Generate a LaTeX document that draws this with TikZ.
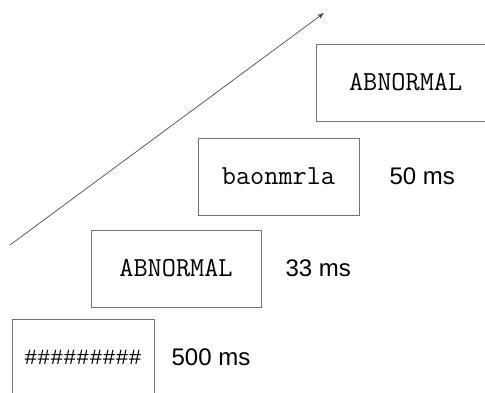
\documentclass[tikz,border=0pt]{standalone}
\usepackage{fontspec}
\setmainfont{Liberation Sans}
\newfontfamily\hashfont{Liberation Mono}
\usetikzlibrary{positioning,arrows.meta}

\tikzset{
  frame/.style={draw=black!55, line width=0.8pt, inner sep=0pt,
    minimum height=77pt, font=\ttfamily\fontsize{27.5}{32}\selectfont},
  dur/.style={inner sep=0pt, font=\fontsize{24}{28}\selectfont}
}

\begin{document}
\begin{tikzpicture}[x=1pt,y=1pt]
  \clip (0,0) rectangle (485,392);
  \fill[white] (0,0) rectangle (485,392);

  % time axis
  \coordinate (t0) at (10,147);
  \coordinate (t1) at (324,379);
  \draw[black!70, line width=0.7pt, -{Stealth[length=7pt,width=5pt]}] (t0) -- (t1);

  % stimulus frames
  \node[frame, minimum width=142pt] (mask) at (83,34.5)
    {\hashfont\fontsize{21.7}{26}\selectfont \#\#\#\#\#\#\#\#\#};
  \node[frame, minimum width=170pt] (prime) at (176,123.5) {ABNORMAL};
  \node[frame, minimum width=161pt] (scram) at (278.5,215.5) {baonmrla};
  \node[frame, minimum width=182pt, text width=170pt, align=left] (target) at (407,309.5)
    {\hspace*{27pt}ABNORMAL};

  % durations
  \node[dur, right=17pt of mask] (d1) {500 ms};
  \node[dur, right=24pt of prime] (d2) {33 ms};
  \node[dur, right=30pt of scram] (d3) {50 ms};
\end{tikzpicture}
\end{document}
